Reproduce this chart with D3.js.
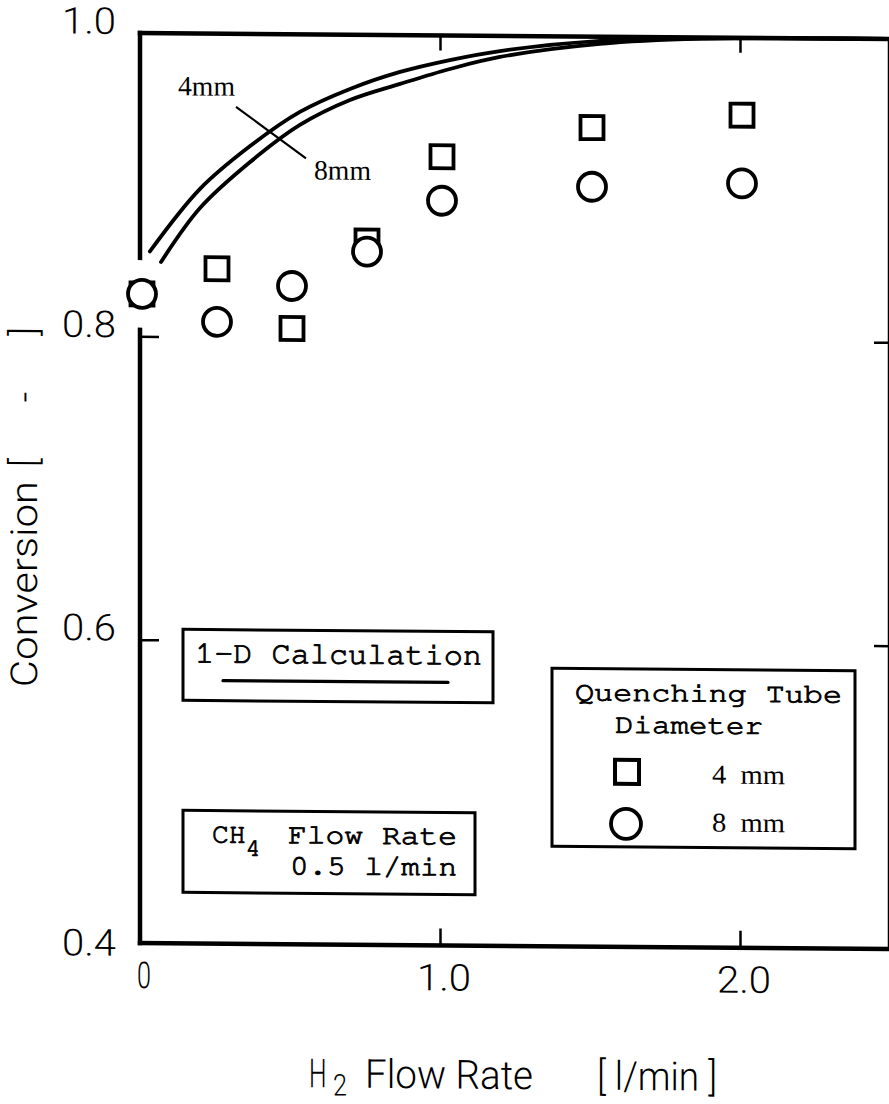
<!DOCTYPE html>
<html>
<head>
<meta charset="utf-8">
<script src="https://cdn.jsdelivr.net/npm/d3@7"></script>
<style>
  body { margin: 0; background: #fff; }
  text { fill: #000; }
  .tick-label, .axis-title { font-family: "Roboto", "DejaVu Sans Condensed", sans-serif; font-weight: 300; }
  .mono { font-family: "Nimbus Mono PS", "FreeMono", "Courier New", "Liberation Mono", monospace; stroke: #000; stroke-width: 0.9px; }
  .serif { font-family: "Liberation Serif", "DejaVu Serif", serif; }
</style>
</head>
<body>
<div id="vis"></div>
<script>
// measured points (H2 flow rate, l/min)
const flowRates = [0, 0.25, 0.5, 0.75, 1.0, 1.5, 2.0];
const conv4mm = [0.828, 0.845, 0.806, 0.864, 0.920, 0.940, 0.949];
const conv8mm = [0.828, 0.810, 0.834, 0.857, 0.891, 0.901, 0.904];

// 1-D calculation curves
const calcFlow4mm = [0.033, 0.20, 0.367, 0.533, 0.70, 0.867, 1.033, 1.20, 1.533, 1.867, 2.20, 2.50];
const calc4mm     = [0.856, 0.8975, 0.926, 0.9488, 0.9642, 0.9757, 0.9838, 0.990, 0.9972, 0.9992, 1.0, 1.0];
const calcFlow8mm = [0.07, 0.20, 0.367, 0.533, 0.70, 0.867, 1.033, 1.20, 1.533, 1.867, 2.20, 2.50];
const calc8mm     = [0.8491, 0.8849, 0.9155, 0.9402, 0.9569, 0.9678, 0.9779, 0.9861, 0.9952, 0.9992, 1.0, 1.0];

// axis ticks
const xTicks = [0, 1.0, 2.0];
const xTickLabels = ["0", "1.0", "2.0"];
const yTicks = [0.4, 0.6, 0.8, 1.0];
const yTickLabels = ["0.4", "0.6", "0.8", "1.0"];

const width = 889, height = 1104;

const svg = d3.select("#vis")
  .append("svg")
    .attr("width", width)
    .attr("height", height);

svg.append("rect").attr("width", width).attr("height", height).attr("fill", "#fff");

// the scan is slightly sheared, lines slope down to the right
const skew = 0.008;
const g = svg.append("g")
    .attr("transform", `matrix(1,${skew},0,1,0,${-140 * skew})`);

const x = d3.scaleLinear().domain([0, 2.5]).range([140, 890]);
const y = d3.scaleLinear().domain([0.4, 1.0]).range([943, 33]);

// frame
const frame = g.append("g")
    .attr("fill", "none")
    .attr("stroke", "#000")
    .attr("stroke-width", 4.5)
    .attr("stroke-linecap", "square");
const edge = d3.line().x(d => x(d[0])).y(d => y(d[1]));
frame.append("path").attr("d", edge([[0, 1.0], [2.5, 1.0], [2.5, 0.4], [0, 0.4]]));
// left axis is broken around the markers at zero flow
const gap = 36;
frame.append("path").attr("d", `M${x(0)},${y(1.0)}V${y(conv4mm[0]) - gap}`);
frame.append("path").attr("d", `M${x(0)},${y(conv4mm[0]) + gap}V${y(0.4)}`);

// inward ticks
const tickStyle = a => a.call(s => s.select(".domain").remove())
  .call(s => s.selectAll("line").attr("stroke", "#000").attr("stroke-width", 2.5));
g.append("g")
    .attr("transform", `translate(0,${y(0.4)})`)
    .call(d3.axisBottom(x).tickValues([1, 2]).tickSize(-17).tickFormat(""))
    .call(tickStyle);
g.append("g")
    .attr("transform", `translate(0,${y(1.0)})`)
    .call(d3.axisTop(x).tickValues([1, 2]).tickSize(-15).tickFormat(""))
    .call(tickStyle);
g.append("g")
    .attr("transform", `translate(${x(0)},0)`)
    .call(d3.axisLeft(y).tickValues([0.6, 0.8]).tickSize(-19).tickFormat(""))
    .call(tickStyle);
g.append("g")
    .attr("transform", `translate(${x(2.5)},0)`)
    .call(d3.axisRight(y).tickValues([0.6, 0.8]).tickSize(-16).tickFormat(""))
    .call(tickStyle);

// tick labels
g.append("g").selectAll("text")
  .data(yTicks)
  .join("text")
    .attr("class", "tick-label")
    .attr("x", 116)
    .attr("y", d => y(d) + (d === 0.4 ? 13 : 1))
    .attr("text-anchor", "end")
    .attr("font-size", 37)
    .attr("textLength", 54)
    .attr("lengthAdjust", "spacingAndGlyphs")
    .text((d, i) => yTickLabels[i]);

g.append("g").selectAll("text")
  .data(xTicks)
  .join("text")
    .attr("class", "tick-label")
    .attr("x", d => x(d) + 4)
    .attr("y", y(0.4) + 45)
    .attr("text-anchor", "middle")
    .attr("font-size", 37)
    .attr("textLength", (d, i) => xTickLabels[i].length > 1 ? 54 : 14)
    .attr("lengthAdjust", "spacingAndGlyphs")
    .text((d, i) => xTickLabels[i]);

// axis titles
g.append("text")
    .attr("class", "axis-title")
    .attr("transform", "translate(37,585) rotate(-90)")
    .attr("text-anchor", "middle")
    .attr("font-size", 37)
    .attr("textLength", 206)
    .attr("lengthAdjust", "spacingAndGlyphs")
    .text("Conversion");
g.append("text")
    .attr("class", "axis-title")
    .attr("transform", "translate(37,398) rotate(-90)")
    .attr("text-anchor", "middle")
    .attr("font-size", 37)
    .attr("textLength", 140)
    .attr("lengthAdjust", "spacing")
    .attr("xml:space", "preserve")
    .text("[ - ]");

// narrow "H" with its subscript
g.append("text")
    .attr("class", "axis-title")
    .attr("transform", "translate(309,1086) scale(0.62,1)")
    .attr("font-size", 40)
    .text("H");
g.append("text")
    .attr("class", "axis-title")
    .attr("x", 333).attr("y", 1094)
    .attr("font-size", 30)
    .attr("textLength", 14).attr("lengthAdjust", "spacingAndGlyphs")
    .text("2");
const xt = g.append("text")
    .attr("class", "axis-title")
    .attr("y", 1086)
    .attr("font-size", 40);
xt.append("tspan").attr("x", 365)
    .attr("textLength", 168).attr("lengthAdjust", "spacingAndGlyphs").text("Flow Rate");
xt.append("tspan").attr("x", 597).attr("xml:space", "preserve")
    .attr("textLength", 120).attr("lengthAdjust", "spacingAndGlyphs").text("[ l/min ]");

// calculated curves
const calcLine = d3.line()
    .x(d => x(d[0]))
    .y(d => y(d[1]))
    .curve(d3.curveCatmullRom.alpha(0.5));
const curves = g.append("g")
    .attr("fill", "none")
    .attr("stroke", "#000")
    .attr("stroke-width", 3.8)
    .attr("stroke-linecap", "round");
curves.append("path").attr("d", calcLine(d3.zip(calcFlow4mm, calc4mm)));
curves.append("path").attr("d", calcLine(d3.zip(calcFlow8mm, calc8mm)));

// 4mm / 8mm annotation
g.append("line")
    .attr("x1", 236).attr("y1", 106).attr("x2", 306).attr("y2", 157)
    .attr("stroke", "#000").attr("stroke-width", 2.2);
g.append("text").attr("class", "serif")
    .attr("x", 178).attr("y", 95).attr("font-size", 28)
    .attr("textLength", 57).attr("lengthAdjust", "spacingAndGlyphs")
    .text("4mm");
g.append("text").attr("class", "serif")
    .attr("x", 314).attr("y", 178).attr("font-size", 28)
    .attr("textLength", 57).attr("lengthAdjust", "spacingAndGlyphs")
    .text("8mm");

// measured markers: squares (4 mm) below circles (8 mm)
const pts = g.append("g")
    .attr("fill", "#fff")
    .attr("stroke", "#000")
    .attr("stroke-width", 3.8);
const side = 23;
pts.selectAll("rect")
  .data(d3.zip(flowRates, conv4mm))
  .join("rect")
    .attr("x", d => x(d[0]) + 2 - side / 2)
    .attr("y", d => y(d[1]) - side / 2)
    .attr("width", side)
    .attr("height", side);
pts.selectAll("circle")
  .data(d3.zip(flowRates, conv8mm))
  .join("circle")
    .attr("cx", d => x(d[0]) + 2)
    .attr("cy", d => y(d[1]))
    .attr("r", 14);

// legend: 1-D calculation
const boxStyle = s => s.attr("fill", "#fff").attr("stroke", "#000").attr("stroke-width", 3);
g.append("rect").call(boxStyle).attr("x", 183).attr("y", 629).attr("width", 310).attr("height", 71);
g.append("text").attr("class", "mono")
    .attr("x", 195).attr("y", 662).attr("font-size", 31)
    .attr("textLength", 287).attr("lengthAdjust", "spacingAndGlyphs")
    .text("1-D Calculation");
g.append("line")
    .attr("x1", 223).attr("y1", 680).attr("x2", 448).attr("y2", 680)
    .attr("stroke", "#000").attr("stroke-width", 3.2).attr("stroke-linecap", "round");

// legend: CH4 flow rate
g.append("rect").call(boxStyle).attr("x", 183).attr("y", 810).attr("width", 292).attr("height", 82);
const ch = g.append("text").attr("class", "mono").attr("x", 212).attr("y", 842).attr("font-size", 28);
ch.append("tspan").text("CH");
ch.append("tspan").attr("font-size", 25).attr("dy", 13).text("4");
g.append("text").attr("class", "mono")
    .attr("x", 288).attr("y", 842).attr("font-size", 28)
    .attr("textLength", 169).attr("lengthAdjust", "spacingAndGlyphs")
    .text("Flow Rate");
g.append("text").attr("class", "mono")
    .attr("x", 290).attr("y", 873).attr("font-size", 28)
    .attr("textLength", 167).attr("lengthAdjust", "spacingAndGlyphs")
    .text("0.5 l/min");

// legend: quenching tube diameter
g.append("rect").call(boxStyle).attr("x", 552).attr("y", 665).attr("width", 303).attr("height", 178);
g.append("text").attr("class", "mono")
    .attr("x", 575).attr("y", 697).attr("font-size", 27)
    .attr("textLength", 267).attr("lengthAdjust", "spacingAndGlyphs")
    .text("Quenching Tube");
g.append("text").attr("class", "mono")
    .attr("x", 615).attr("y", 729).attr("font-size", 27)
    .attr("textLength", 148).attr("lengthAdjust", "spacingAndGlyphs")
    .text("Diameter");
g.append("rect")
    .attr("x", 627 - 12).attr("y", 768 - 12).attr("width", 24).attr("height", 24)
    .attr("fill", "#fff").attr("stroke", "#000").attr("stroke-width", 4);
g.append("circle")
    .attr("cx", 626).attr("cy", 820).attr("r", 15)
    .attr("fill", "#fff").attr("stroke", "#000").attr("stroke-width", 3.8);
g.append("text").attr("class", "serif")
    .attr("x", 712).attr("y", 779).attr("font-size", 27)
    .attr("xml:space", "preserve")
    .attr("textLength", 73).attr("lengthAdjust", "spacingAndGlyphs")
    .text("4  mm");
g.append("text").attr("class", "serif")
    .attr("x", 712).attr("y", 827).attr("font-size", 27)
    .attr("xml:space", "preserve")
    .attr("textLength", 73).attr("lengthAdjust", "spacingAndGlyphs")
    .text("8  mm");
</script>
</body>
</html>
